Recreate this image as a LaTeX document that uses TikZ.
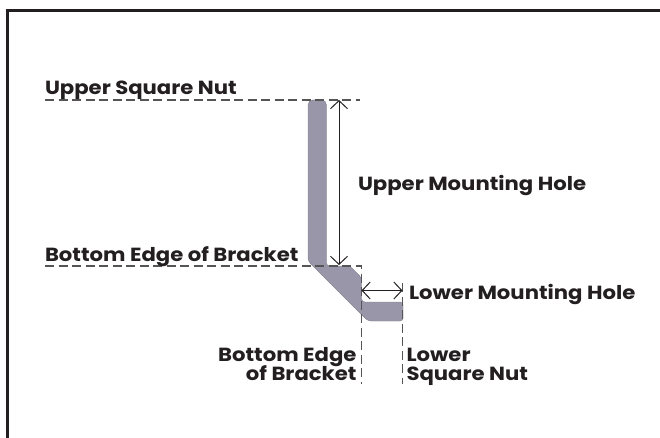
\documentclass[tikz,border=0pt]{standalone}
\usepackage{fontspec}
\setmainfont{Poppins}[FakeStretch=1.115]
\usetikzlibrary{arrows.meta}
\definecolor{bracketfill}{HTML}{9896A8}
\definecolor{dashgray}{HTML}{555555}
\definecolor{ink}{HTML}{231F20}
\tikzset{
  lbl/.style={font=\fontsize{19}{19}\selectfont\bfseries, text=ink, inner sep=0pt, outer sep=0pt},
  guide/.style={draw=dashgray, line width=1.3pt, dash pattern=on 9pt off 4.5pt},
  dim/.style={draw=ink, line width=1pt, {Straight Barb[length=8pt,width=17pt,line width=1pt]}-{Straight Barb[length=8pt,width=17pt,line width=1pt]}},
}
\begin{document}
\begin{tikzpicture}[x=1pt,y=-1pt]
\useasboundingbox (0,0) rectangle (660,438);
\fill[white] (0,0) rectangle (660,438);
\draw[draw=ink, line width=3pt] (7.5,438) -- (7.5,10.8) -- (660,10.8);
% bracket
\fill[bracketfill, draw=bracketfill!85!black, line width=0.4pt, rounded corners=3pt]
  (317,100) [rounded corners=5pt] -- (326.5,100) [rounded corners=3pt] -- (326.5,266) -- (350,266) -- (361.7,278) -- (361.7,302) -- (403,302) -- (403,321) -- (368,321) -- (308,261) [rounded corners=5pt] -- (308,100) -- cycle;
% coordinates
\coordinate (ua) at (45,100);
\coordinate (ub) at (360,100);
\coordinate (ma) at (45,266);
\coordinate (mb) at (361.5,266);
\coordinate (mc) at (361.5,384);
\coordinate (ra) at (402.5,283);
\coordinate (rb) at (402.5,384);
\coordinate (va) at (339,100);
\coordinate (vb) at (339,265);
\coordinate (ha) at (361.5,290.5);
\coordinate (hb) at (402.5,290.5);
\draw[guide] (ua) -- (ub);
\draw[guide] (ma) -- (mb) -- (mc);
\draw[guide] (ra) -- (rb);
\draw[dim] (va) -- (vb);
\draw[dim] (ha) -- (hb);
% labels
\node[lbl, anchor=base west] (t1) at (45,95) {Upper Square Nut};
\node[lbl, anchor=base west] (t2) at (358,190) {Upper Mounting Hole};
\node[lbl, anchor=base west] (t3) at (45,261) {Bottom Edge of Bracket};
\node[lbl, anchor=base west] (t4) at (409,299) {Lower Mounting Hole};
\node[lbl, anchor=base east] (t5) at (356.5,361) {Bottom Edge};
\node[lbl, anchor=base east] (t6) at (356.5,380) {of Bracket};
\node[lbl, anchor=base west] (t7) at (406.5,361) {Lower};
\node[lbl, anchor=base west] (t8) at (406.5,380) {Square Nut};
\end{tikzpicture}
\end{document}
